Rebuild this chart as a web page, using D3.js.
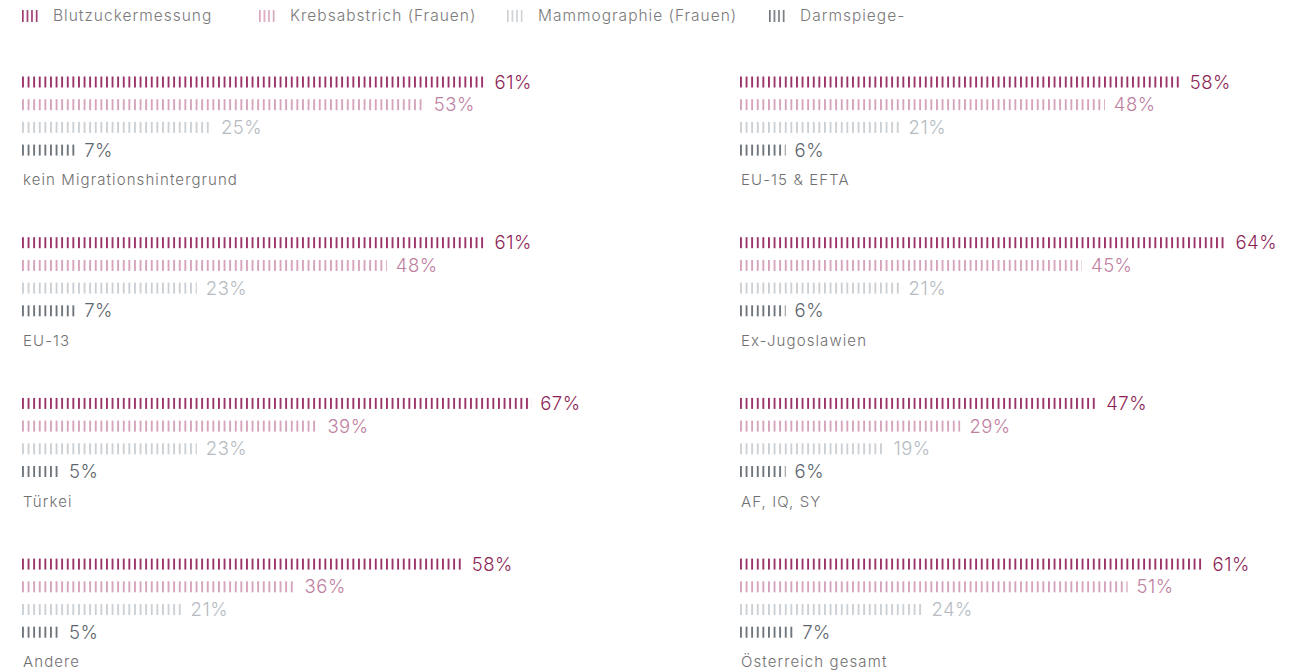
<!DOCTYPE html>
<html lang="de">
<head>
<meta charset="utf-8">
<title>Vorsorgeuntersuchungen nach Herkunft</title>
<script src="https://d3js.org/d3.v7.min.js"></script>
<style>
  body { margin: 0; background: #fff; }
  text { font-family: Inter, Lato, "Open Sans", sans-serif; font-weight: 300; }
</style>
</head>
<body>
<script>
// data
var groups = ["kein Migrationshintergrund", "EU-15 & EFTA", "EU-13", "Ex-Jugoslawien",
              "Türkei", "AF, IQ, SY", "Andere", "Österreich gesamt"];
var series = ["Blutzuckermessung", "Krebsabstrich (Frauen)", "Mammographie (Frauen)", "Darmspiege-"];
var blutzucker = [61, 58, 61, 64, 67, 47, 58, 61];
var krebsabstrich = [53, 48, 48, 45, 39, 29, 36, 51];
var mammographie = [25, 21, 23, 21, 23, 19, 21, 24];
var darmspiegelung = [7, 6, 7, 6, 5, 6, 5, 7];

var values = [blutzucker, krebsabstrich, mammographie, darmspiegelung];
var barColors = ["#9a3368", "#d6a3bc", "#cbd0d5", "#6e757d"];
var textColors = ["#8d1f57", "#c0809f", "#b5bbc1", "#5d656e"];

var w = 1309, h = 672;

var svg = d3.select("body").append("svg")
  .attr("width", w)
  .attr("height", h);

// vertical stripe patterns
var defs = svg.append("defs");
barColors.forEach(function(c, i) {
  var p = defs.append("pattern")
    .attr("id", "stripe" + i)
    .attr("patternUnits", "userSpaceOnUse")
    .attr("width", 5.6)
    .attr("height", 20);
  p.append("rect")
    .attr("x", 0).attr("y", 0)
    .attr("width", 1.9).attr("height", 20)
    .attr("fill", c);

  var l = defs.append("pattern")
    .attr("id", "stripeL" + i)
    .attr("patternUnits", "userSpaceOnUse")
    .attr("width", 4.6)
    .attr("height", 20);
  l.append("rect")
    .attr("width", 1.6).attr("height", 20)
    .attr("fill", c);
});

// scales
var x = d3.scaleLinear().domain([0, 100]).range([0, 760]);
var col = d3.scaleOrdinal().domain([0, 1]).range([22, 740]);
var row = d3.scaleLinear().domain([0, 3]).range([82, 82 + 3 * 160.7]);
var sub = d3.scaleLinear().domain([0, 3]).range([0, 3 * 22.7]);

// legend
var legendX = [22, 259, 507, 769];
var legend = svg.selectAll(".legend")
  .data(series)
  .enter().append("g")
  .attr("class", "legend")
  .attr("transform", function(d, i) { return "translate(" + legendX[i] + ",16)"; });

legend.append("rect")
  .attr("x", 0)
  .attr("y", -6)
  .attr("width", 16)
  .attr("height", 12)
  .attr("fill", function(d, i) { return "url(#stripeL" + i + ")"; });

legend.append("text")
  .attr("x", 31)
  .attr("dy", "0.35em")
  .style("font-size", "15.5px")
  .style("letter-spacing", "1px")
  .style("fill", "#7a7a7a")
  .text(function(d) { return d; });

// panels
var panel = svg.selectAll(".panel")
  .data(groups)
  .enter().append("g")
  .attr("class", "panel")
  .attr("transform", function(d, i) {
    return "translate(" + col(i % 2) + "," + row(Math.floor(i / 2)) + ")";
  });

panel.each(function(g, gi) {
  var p = d3.select(this);
  var rows = values.map(function(v, si) { return { s: si, v: v[gi] }; });

  var r = p.selectAll(".bar")
    .data(rows)
    .enter().append("g")
    .attr("class", "bar")
    .attr("transform", function(d) { return "translate(0," + sub(d.s) + ")"; });

  r.append("rect")
    .attr("x", 0)
    .attr("y", -5.5)
    .attr("width", function(d) { return x(d.v); })
    .attr("height", 11)
    .attr("fill", function(d) { return "url(#stripe" + d.s + ")"; });

  r.append("text")
    .attr("x", function(d) { return x(d.v) + 9; })
    .attr("dy", "0.36em")
    .style("font-size", "18.5px")
    .style("letter-spacing", "0.5px")
    .style("fill", function(d) { return textColors[d.s]; })
    .text(function(d) { return d.v + "%"; });

  p.append("text")
    .attr("x", 1)
    .attr("y", 98)
    .attr("dy", "0.35em")
    .style("font-size", "15px")
    .style("letter-spacing", "1.1px")
    .style("fill", "#707070")
    .text(g);
});
</script>
</body>
</html>
